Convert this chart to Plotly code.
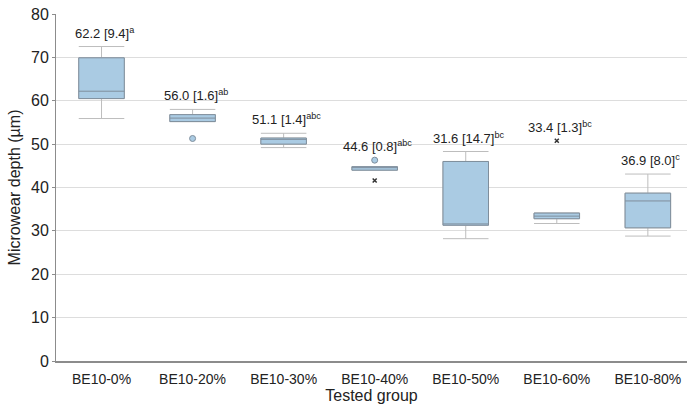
import plotly.graph_objects as go

# Tested groups and their box-plot summaries (µm)
groups = ["BE10-0%", "BE10-20%", "BE10-30%", "BE10-40%", "BE10-50%", "BE10-60%", "BE10-80%"]
lower_whisker = [55.9, 55.2, 49.2, 44.0, 28.2, 31.7, 28.8]
q1 = [60.5, 55.2, 50.0, 44.0, 31.3, 32.8, 30.7]
median = [62.2, 56.0, 51.1, 44.6, 31.6, 33.4, 36.9]
q3 = [69.9, 56.8, 51.4, 44.8, 46.0, 34.1, 38.7]
upper_whisker = [72.5, 58.0, 52.5, 44.8, 48.3, 34.1, 43.1]
iqr = [9.4, 1.6, 1.4, 0.8, 14.7, 1.3, 8.0]
letters = ["a", "ab", "abc", "abc", "bc", "bc", "c"]

# Outliers (circles) and extreme values (asterisks)
outlier_groups = ["BE10-20%", "BE10-40%"]
outlier_values = [51.3, 46.3]
extreme_groups = ["BE10-40%", "BE10-60%"]
extreme_values = [41.6, 50.8]

font = "Liberation Sans, Arial, sans-serif"
fill = "#AACBE3"
edge = "#7F8E9C"
whisker = "#BDBDBD"

fig = go.Figure()

# Whiskers in light gray
fig.add_trace(go.Box(
    x=groups, q1=q1, median=median, q3=q3,
    lowerfence=lower_whisker, upperfence=upper_whisker,
    width=0.5, whiskerwidth=1,
    fillcolor="rgba(0,0,0,0)", line=dict(color=whisker, width=1),
    boxpoints=False, showlegend=False, hoverinfo="skip",
))

# Filled boxes with median line on top
fig.add_trace(go.Box(
    x=groups, q1=q1, median=median, q3=q3,
    lowerfence=q1, upperfence=q3,
    width=0.5, whiskerwidth=0,
    fillcolor=fill, line=dict(color=edge, width=1),
    boxpoints=False, showlegend=False,
))

fig.add_trace(go.Scatter(
    x=outlier_groups, y=outlier_values, mode="markers",
    marker=dict(symbol="circle", size=6, color=fill, line=dict(color=edge, width=1)),
    showlegend=False,
))
fig.add_trace(go.Scatter(
    x=extreme_groups, y=extreme_values, mode="markers",
    marker=dict(symbol="x-thin", size=4, color="#333333", line=dict(color="#333333", width=1.5)),
    showlegend=False,
))

# Median [IQR] labels with significance letters above each group
for i, g in enumerate(groups):
    top = upper_whisker[i]
    for gg, v in zip(outlier_groups + extreme_groups, outlier_values + extreme_values):
        if gg == g:
            top = max(top, v)
    fig.add_annotation(
        x=g, y=top, yref="y", xref="x",
        text=f"{median[i]:.1f} [{iqr[i]:.1f}]<sup>{letters[i]}</sup>",
        showarrow=False, yanchor="middle", yshift=14, xshift=3,
        font=dict(family=font, size=13, color="#222222"),
    )

fig.update_layout(
    width=687, height=410,
    margin=dict(l=56, r=0, t=14, b=49),
    paper_bgcolor="white", plot_bgcolor="white",
    boxmode="overlay",
    font=dict(family=font, color="#222222"),
    xaxis=dict(
        title=dict(text="Tested group", font=dict(size=16), standoff=2),
        tickfont=dict(size=14), ticklabelstandoff=4,
        range=[-0.5, 6.43],
        showline=True, linecolor="#8C8C8C", linewidth=1.5,
        showgrid=False, ticks="",
    ),
    yaxis=dict(
        title=dict(text="Microwear depth (µm)", font=dict(size=16), standoff=6),
        range=[0, 80], dtick=10, tickfont=dict(size=16),
        showline=True, linecolor="#8C8C8C", linewidth=1,
        showgrid=True, gridcolor="#DDDDDD", gridwidth=1,
        ticks="outside", ticklen=3, tickcolor="#8C8C8C",
        zeroline=False,
    ),
)

fig.write_html("out.html")
